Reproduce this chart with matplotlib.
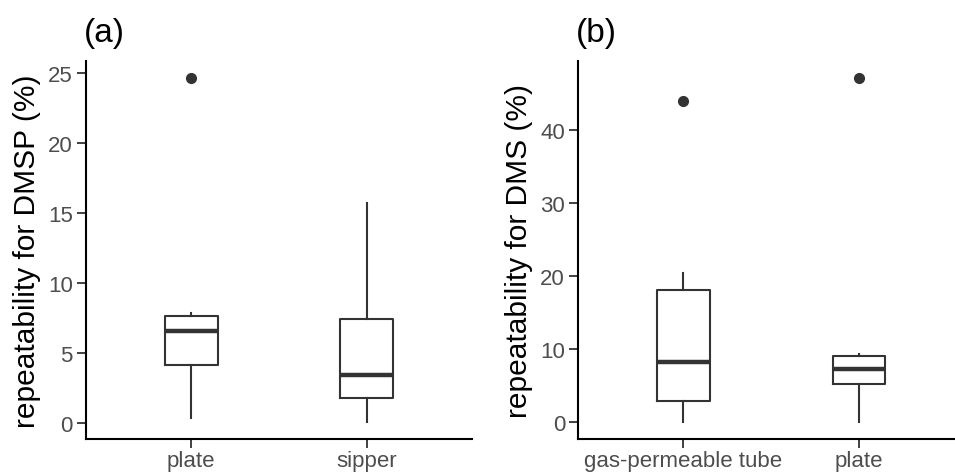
import matplotlib
matplotlib.use('Agg')
import matplotlib.pyplot as plt

plt.rcParams['font.family'] = ['Liberation Sans', 'DejaVu Sans']

# panel (a): DMSP
a_groups = ['plate', 'sipper']
a_low = [0.40, 0.10]
a_q1 = [4.16, 1.83]
a_med = [6.58, 3.42]
a_q3 = [7.65, 7.46]
a_high = [7.89, 15.68]
a_out = [[24.64], []]

# panel (b): DMS
b_groups = ['gas-permeable tube', 'plate']
b_low = [0.0, 0.0]
b_q1 = [2.79, 5.16]
b_med = [8.27, 7.22]
b_q3 = [18.04, 9.04]
b_high = [20.46, 9.27]
b_out = [[43.97], [47.17]]

a_ticks = [0, 5, 10, 15, 20, 25]
b_ticks = [0, 10, 20, 30, 40]

box_col = '#333333'
W, H = 955, 477


def make_stats(low, q1, med, q3, high, out):
    stats = []
    for i in range(len(med)):
        stats.append({'whislo': low[i], 'q1': q1[i], 'med': med[i], 'q3': q3[i],
                      'whishi': high[i], 'fliers': out[i]})
    return stats


def draw_panel(ax, stats, groups, ticks, ylabel, title):
    ax.bxp(stats, positions=range(1, len(groups) + 1), widths=0.3, showcaps=False,
           boxprops=dict(color=box_col, linewidth=1.5),
           whiskerprops=dict(color=box_col, linewidth=1.5),
           medianprops=dict(color=box_col, linewidth=3.2, solid_capstyle='butt'),
           flierprops=dict(marker='o', markerfacecolor=box_col, markeredgecolor=box_col,
                           markersize=7, linestyle='none'))
    allv = [s['whislo'] for s in stats] + [s['whishi'] for s in stats]
    for s in stats:
        allv += list(s['fliers'])
    lo, hi = min(allv), max(allv)
    pad = (hi - lo) * 0.05
    ax.set_ylim(lo - pad, hi + pad)
    ax.set_xlim(0.4, len(groups) + 0.6)
    ax.set_xticks(range(1, len(groups) + 1))
    ax.set_xticklabels(groups)
    ax.set_yticks(ticks)
    for sp in ['top', 'right']:
        ax.spines[sp].set_visible(False)
    for sp in ['left', 'bottom']:
        ax.spines[sp].set_linewidth(1.5)
        ax.spines[sp].set_color('black')
    ax.tick_params(axis='both', length=6.5, width=1.3, color=box_col,
                   labelsize=16, labelcolor='#4D4D4D', pad=3)
    ax.tick_params(axis='x', pad=1.5)
    ax.set_ylabel(ylabel, fontsize=21.5, color='black', labelpad=5)
    ax.set_title(title, fontsize=24, loc='left', pad=14, x=-0.005)


fig = plt.figure(figsize=(W / 100, H / 100), dpi=100)
ax1 = fig.add_axes([86 / W, 37 / H, (472 - 86) / W, 378.3 / H])
ax2 = fig.add_axes([578.3 / W, 37 / H, (964 - 578.3) / W, 378.3 / H])

draw_panel(ax1, make_stats(a_low, a_q1, a_med, a_q3, a_high, a_out), a_groups, a_ticks,
           'repeatability for DMSP (%)', '(a)')
draw_panel(ax2, make_stats(b_low, b_q1, b_med, b_q3, b_high, b_out), b_groups, b_ticks,
           'repeatability for DMS (%)', '(b)')

fig.savefig('out.png', dpi=100)
